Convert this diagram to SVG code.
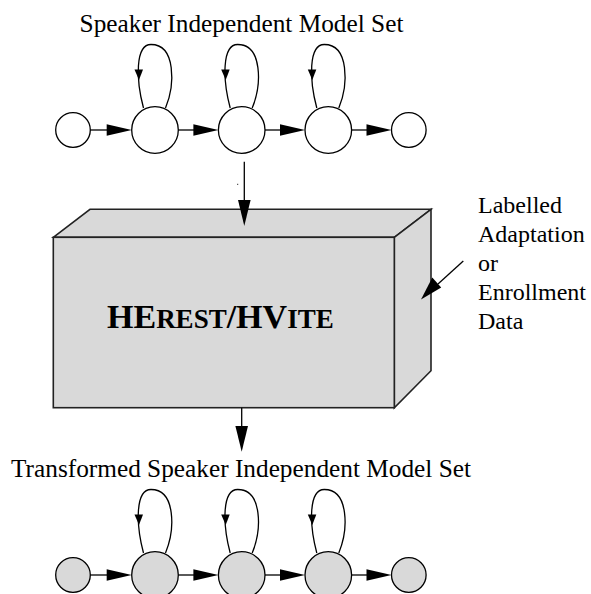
<svg xmlns="http://www.w3.org/2000/svg" width="591" height="594" viewBox="0 0 591 594">
<style>
text{font-family:"Liberation Serif","Times New Roman",serif;fill:#000}
.lbl{font-size:25.3px}
.side{font-size:24px;font-family:"Liberation Serif","Times New Roman",serif}
.st{fill:#fff;stroke:#000;stroke-width:1.3}
.sg{fill:#d9d9d9;stroke:#000;stroke-width:1.3}
.ln{fill:none;stroke:#000;stroke-width:1.3}
.box{fill:#d9d9d9;stroke:#222;stroke-width:1.6;stroke-linejoin:miter}
.ah{fill:#000;stroke:none}
</style>
<defs>
<g id="loop">
<path class="ln" d="M10.5,-22 C20,-45 21,-85.5 -4,-85.5 C-20,-85.5 -19,-50 -11.5,-22"/>
<polygon class="ah" points="-16,-50 -20.5,-60.5 -12,-60.5"/>
</g>
<g id="harrow">
<polygon class="ah" points="0,0 -25,-5.8 -25,5.8"/>
</g>
</defs>

<text class="lbl" x="241.5" y="32" text-anchor="middle">Speaker Independent Model Set</text>
<text class="lbl" x="241" y="477" text-anchor="middle">Transformed Speaker Independent Model Set</text>

<g id="top-model">
<g id="t0"><circle class="st" cx="73" cy="130" r="17.3"/></g>
<g id="t1"><circle class="st" cx="155" cy="130" r="23.3"/></g>
<g id="t2"><circle class="st" cx="241.7" cy="130" r="23.3"/></g>
<g id="t3"><circle class="st" cx="328.3" cy="130" r="23.3"/></g>
<g id="t4"><circle class="st" cx="408.8" cy="130" r="17.3"/></g>
</g>

<g id="bottom-model">
<g id="b0"><circle class="sg" cx="73" cy="575" r="17.3"/></g>
<g id="b1"><circle class="sg" cx="155" cy="575" r="23.3"/></g>
<g id="b2"><circle class="sg" cx="241.7" cy="575" r="23.3"/></g>
<g id="b3"><circle class="sg" cx="328.3" cy="575" r="23.3"/></g>
<g id="b4"><circle class="sg" cx="408.8" cy="575" r="17.3"/></g>
</g>

<g id="box">
<polygon class="box" points="53.3,237.3 90,209.3 431,209.3 394.3,237.3"/>
<polygon class="box" points="394.3,237.3 431,209.3 431,370.7 394.3,407.7"/>
<rect class="box" x="53.3" y="237.3" width="341" height="170.4"/>
<text x="107" y="328.3" font-weight="bold" font-size="34"><tspan>HE</tspan><tspan font-size="27">REST</tspan><tspan>/HV</tspan><tspan font-size="27">ITE</tspan></text>
</g>

<g id="data-label">
<text class="side" x="478" y="212.7">Labelled</text>
<text class="side" x="478" y="241.7">Adaptation</text>
<text class="side" x="478" y="271">or</text>
<text class="side" x="478" y="300">Enrollment</text>
<text class="side" x="478" y="329.3">Data</text>
</g>

<g id="connectors">
<line class="ln" x1="90.3" y1="130" x2="110" y2="130"/><use href="#harrow" x="131.7" y="130"/>
<line class="ln" x1="178.3" y1="130" x2="196" y2="130"/><use href="#harrow" x="218.4" y="130"/>
<line class="ln" x1="265" y1="130" x2="283" y2="130"/><use href="#harrow" x="305" y="130"/>
<line class="ln" x1="351.6" y1="130" x2="369" y2="130"/><use href="#harrow" x="391.5" y="130"/>
<use href="#loop" x="155" y="130"/>
<use href="#loop" x="241.7" y="130"/>
<use href="#loop" x="328.3" y="130"/>
<line class="ln" x1="90.3" y1="575" x2="110" y2="575"/><use href="#harrow" x="131.7" y="575"/>
<line class="ln" x1="178.3" y1="575" x2="196" y2="575"/><use href="#harrow" x="218.4" y="575"/>
<line class="ln" x1="265" y1="575" x2="283" y2="575"/><use href="#harrow" x="305" y="575"/>
<line class="ln" x1="351.6" y1="575" x2="369" y2="575"/><use href="#harrow" x="391.5" y="575"/>
<use href="#loop" x="155" y="575"/>
<use href="#loop" x="241.7" y="575"/>
<use href="#loop" x="328.3" y="575"/>
<line class="ln" x1="244.3" y1="161.7" x2="244.3" y2="202"/>
<polygon class="ah" points="244.3,226 238,200 250.6,200"/>
<rect x="237.2" y="183.8" width="1" height="1" fill="#000"/>
<line class="ln" x1="241.7" y1="407.7" x2="241.7" y2="428"/>
<polygon class="ah" points="241.7,451.7 235.4,426 248,426"/>
<line class="ln" x1="463.3" y1="261" x2="438" y2="284"/>
<polygon class="ah" points="421,299.5 432.3,277.6 441.2,287.4"/>
</g>
</svg>
